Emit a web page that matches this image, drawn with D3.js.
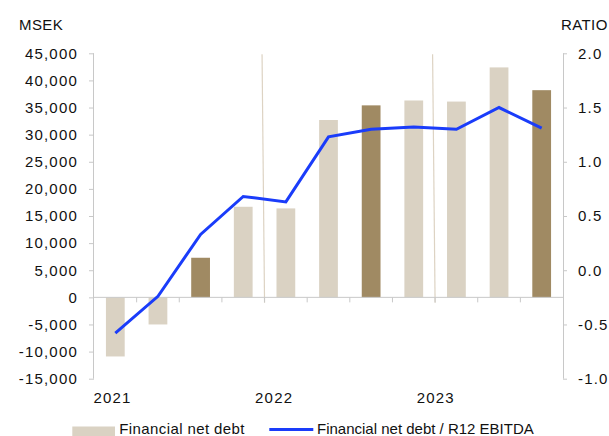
<!DOCTYPE html>
<html>
<head>
<meta charset="utf-8">
<script src="https://cdn.jsdelivr.net/npm/d3@7"></script>
<style>
  body { margin: 0; background: #fff; }
  svg text { font-family: "Liberation Sans", Arial, sans-serif; font-size: 15px; fill: #111; letter-spacing: 0.4px; }
  svg .tick text, svg .year { letter-spacing: 1.2px; }
</style>
</head>
<body>
<svg id="chart" width="609" height="436"></svg>
<script>
// quarterly data, dark bars are year-end quarters
const quarters = ["Q2 21", "Q3 21", "Q4 21", "Q1 22", "Q2 22", "Q3 22", "Q4 22", "Q1 23", "Q2 23", "Q3 23", "Q4 23"];
const netDebt = [-10900, -5000, 7300, 16700, 16400, 32700, 35400, 36300, 36100, 42400, 38200];
const yearEnd = [false, false, true, false, false, false, true, false, false, false, true];
const ratio = [-0.58, -0.24, 0.33, 0.68, 0.63, 1.23, 1.30, 1.32, 1.30, 1.50, 1.31];
const yearLabels = [2021, 2022, 2023];
const leftTicks = [-15000, -10000, -5000, 0, 5000, 10000, 15000, 20000, 25000, 30000, 35000, 40000, 45000];
const rightTicks = [-1.0, -0.5, 0.0, 0.5, 1.0, 1.5, 2.0];
const yearBreaks = [4, 8]; /* band index where the separator lines sit */

const svg = d3.select("#chart");
const plotL = 94, plotR = 563, plotT = 53.3, plotB = 378.7;

const x = d3.scaleBand().domain(quarters).range([plotL, plotR]).paddingInner(0.56).paddingOuter(0.28);
const step = x.step();
const yL = d3.scaleLinear().domain([-15000, 45000]).range([plotB, plotT]);
const yR = d3.scaleLinear().domain([-1, 2]).range([plotB, plotT]);
// year labels don't sit on the quarters exactly
const xYear = d3.scaleLinear().domain([2021, 2023]).range([112.5, 435.8]);

const axisColor = "#c8c8c8";

// left axis
const gL = svg.append("g")
  .attr("transform", `translate(${plotL},0)`)
  .call(d3.axisLeft(yL).tickValues(leftTicks).tickSize(5).tickPadding(11)
    .tickFormat(d => d3.format(",")(d).replace("−", "-")));
gL.select(".domain").attr("stroke", axisColor).attr("d", `M-0.5,${plotT}V${plotB}`);
gL.selectAll(".tick line").attr("stroke", axisColor);
gL.selectAll(".tick text").style("font-size", "15px").attr("font-family", null);

// right axis
const gR = svg.append("g")
  .attr("transform", `translate(${plotR},0)`)
  .call(d3.axisRight(yR).tickValues(rightTicks).tickSize(4).tickPadding(11)
    .tickFormat(d => d3.format(".1f")(d).replace("−", "-")));
gR.select(".domain").attr("stroke", axisColor).attr("d", `M0.5,${plotT}V${plotB}`);
gR.selectAll(".tick line").attr("stroke", axisColor);
gR.selectAll(".tick text").style("font-size", "15px").attr("font-family", null);

svg.append("text").attr("x", 19).attr("y", 30).text("MSEK");
svg.append("text").attr("x", 561).attr("y", 30).text("RATIO");

// year separators
svg.append("g").selectAll("line")
  .data(yearBreaks)
  .enter()
  .append("line")
  .attr("x1", d => plotL + d * step - 2.5)
  .attr("x2", d => plotL + d * step)
  .attr("y1", 54.3)
  .attr("y2", yL(0) + 5.5)
  .attr("stroke", "#ddd3c3")
  .attr("stroke-width", 1.2);

// bars
svg.append("g").selectAll("rect")
  .data(netDebt)
  .enter()
  .append("rect")
  .attr("x", (d, i) => x(quarters[i]))
  .attr("width", x.bandwidth())
  .attr("y", d => yL(Math.max(0, d)))
  .attr("height", d => Math.abs(yL(d) - yL(0)))
  .attr("fill", (d, i) => yearEnd[i] ? "#a08a63" : "#dad2c3");

// zero line + x ticks at band boundaries
svg.append("line")
  .attr("x1", plotL).attr("x2", plotR)
  .attr("y1", yL(0)).attr("y2", yL(0))
  .attr("stroke", axisColor);
svg.append("g").selectAll("line")
  .data(d3.range(1, quarters.length))
  .enter()
  .append("line")
  .attr("x1", i => plotL + i * step).attr("x2", i => plotL + i * step)
  .attr("y1", yL(0)).attr("y2", yL(0) + 5)
  .attr("stroke", axisColor);

// ratio line
const line = d3.line()
  .x((d, i) => x(quarters[i]) + x.bandwidth() / 2)
  .y(d => yR(d));
svg.append("path")
  .datum(ratio)
  .attr("d", line)
  .attr("fill", "none")
  .attr("stroke", "#1a3cfa")
  .attr("stroke-width", 3);

// year labels
svg.append("g").selectAll("text")
  .data(yearLabels)
  .enter()
  .append("text")
  .attr("class", "year")
  .attr("x", d => xYear(d))
  .attr("y", 403.3)
  .attr("text-anchor", "middle")
  .text(d => d);

// legend (sits right at the bottom edge)
const leg = svg.append("g");
leg.append("rect").attr("x", 72.3).attr("y", 426.5).attr("width", 42.7).attr("height", 9.5).attr("fill", "#dad2c3");
leg.append("text").attr("x", 119.3).attr("y", 433.5).text("Financial net debt");
leg.append("line").attr("x1", 269.3).attr("x2", 313.3).attr("y1", 429.5).attr("y2", 429.5)
  .attr("stroke", "#1a3cfa").attr("stroke-width", 3);
leg.append("text").attr("x", 317).attr("y", 433.5).style("letter-spacing", "0px")
  .text("Financial net debt / R12 EBITDA");
</script>
</body>
</html>
